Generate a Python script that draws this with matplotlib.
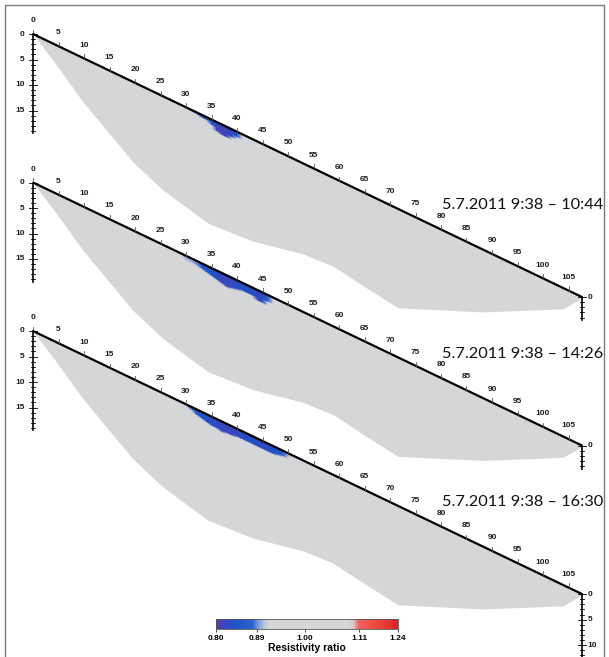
import numpy as np
import matplotlib
matplotlib.use("Agg")
import matplotlib.pyplot as plt
import matplotlib.colors as mcolors
import matplotlib.cm as cm
from matplotlib.patches import Rectangle

# ---- data ----
# topography of the profile (horizontal distance m, relative elevation m)
topo_dist = [0.0, 107.7]
topo_elev = [0.0, -51.6]

# lower edge of the inverted section (distance m, relative elevation m)
bot_dist = [0.0, 4.9, 9.8, 19.6, 25.5, 34.3, 43.1, 52.9, 58.8, 65.7, 71.6, 88.2, 103.9, 106.9, 107.7]
bot_elev = [0.0, -6.5, -13.3, -25.1, -30.6, -37.1, -40.6, -43.1, -45.5, -50.0, -53.7, -54.5, -53.9, -52.2, -51.6]

titles = ["5.7.2011 9:38 \u2013 10:44", "5.7.2011 9:38 \u2013 14:26", "5.7.2011 9:38 \u2013 16:30"]

# low-ratio zone under the surface for each time step
p1_dist = [30, 31, 32, 33, 34, 35, 36, 37, 38, 39, 40, 41]
p1_thick = [0.0, 0.3, 0.4, 0.5, 0.7, 1.2, 1.8, 2.1, 2.0, 1.7, 1.0, 0.0]
p1_ratio = [1.0, 0.90, 0.88, 0.87, 0.86, 0.84, 0.82, 0.81, 0.82, 0.83, 0.85, 1.0]

p2_dist = [28, 29, 30, 31, 32, 33, 34, 35, 36, 37, 38, 39, 40, 41, 42, 43, 44, 45, 46, 47]
p2_thick = [0.0, 0.5, 0.8, 0.9, 0.8, 1.0, 1.3, 1.6, 1.9, 2.2, 2.3, 2.2, 1.9, 1.6, 1.5, 1.7, 2.0, 2.1, 1.4, 0.0]
p2_ratio = [1.0, 0.92, 0.90, 0.90, 0.89, 0.87, 0.85, 0.84, 0.83, 0.82, 0.82, 0.82, 0.83, 0.84, 0.84, 0.83, 0.82, 0.83, 0.86, 1.0]

p3_dist = [29, 30, 31, 32, 33, 34, 35, 36, 37, 38, 39, 40, 41, 42, 43, 44, 45, 46, 47, 48, 49, 50, 51]
p3_thick = [0.0, 0.4, 0.7, 1.0, 1.3, 1.6, 1.8, 1.9, 2.0, 1.9, 1.8, 1.7, 1.6, 1.5, 1.5, 1.6, 1.7, 1.7, 1.6, 1.4, 1.0, 0.5, 0.0]
p3_ratio = [1.0, 0.91, 0.88, 0.86, 0.85, 0.84, 0.83, 0.83, 0.82, 0.82, 0.82, 0.82, 0.83, 0.84, 0.84, 0.83, 0.83, 0.83, 0.84, 0.85, 0.87, 0.90, 1.0]

anomalies = [(p1_dist, p1_thick, p1_ratio),
             (p2_dist, p2_thick, p2_ratio),
             (p3_dist, p3_thick, p3_ratio)]

# colour scale
cbar_ticks = [0.80, 0.89, 1.00, 1.11, 1.24]
cbar_tick_pos = [0.0, 0.225, 0.49, 0.786, 1.0]
cmap_pos = [0.0, 0.04, 0.10, 0.20, 0.225, 0.26, 0.29, 0.72, 0.755, 0.786, 0.88, 1.0]
cmap_col = ['#5a3aa8', '#3c46bd', '#1f52c8', '#2c62d2', '#6e92da', '#b2c3de', '#d5d6d8',
            '#d5d6d8', '#dcc9cc', '#f06262', '#ef4a3c', '#e02226']

# ---- drawing ----
px = 5.1            # pixels per metre
ox, oy = 33, 34     # origin of the first panel in pixels
panel_step = 148.5 / px

cmap = mcolors.LinearSegmentedColormap.from_list('ratio', list(zip(cmap_pos, cmap_col)))
norm = mcolors.FuncNorm((lambda v: np.interp(v, cbar_ticks, cbar_tick_pos),
                         lambda v: np.interp(v, cbar_tick_pos, cbar_ticks)),
                        vmin=0.80, vmax=1.24)

fig = plt.figure(figsize=(6.09, 6.57), dpi=100)
ax = fig.add_axes([0, 0, 1, 1])
ax.set_xlim(-ox / px, (609 - ox) / px)
ax.set_ylim((oy - 657) / px, oy / px)
ax.axis('off')

lab_font = dict(family='Liberation Sans', fontweight='bold', fontsize=6, color='#1e1e1e')
grey = cmap(norm(1.0))
right_len = [4.5, 4.5, 14]
right_labels = [[0], [0], [0, 5, 10]]

for k in range(3):
    z0 = -k * panel_step
    xs = np.array(bot_dist)
    surf = np.interp(xs, topo_dist, topo_elev)
    ax.fill_between(xs, z0 + surf, z0 + np.array(bot_elev), color=grey, lw=0, zorder=1)

    # anomaly mesh below the surface
    d, t, r = anomalies[k]
    d = np.array(d, float)
    depths = np.arange(0, 3.01, 0.25)
    X = np.tile(d, (len(depths), 1))
    Z = z0 + np.interp(d, topo_dist, topo_elev)[None, :] - depths[:, None]
    C = np.where(depths[:, None] <= np.array(t)[None, :], np.array(r)[None, :], 1.0)
    ax.pcolormesh(X, Z, C, shading='gouraud', cmap=cmap, norm=norm, zorder=2)

    # surface line and distance labels
    ax.plot(topo_dist, np.array(topo_elev) + z0, color='black', lw=1.6, zorder=3,
            solid_capstyle='butt')
    for m in range(0, 106, 5):
        ys = z0 + np.interp(m, topo_dist, topo_elev)
        ax.plot([m, m], [ys, ys + 0.8], color='#555555', lw=0.6, zorder=3)
        ax.text(m, ys + 2.6, str(m), ha='center', va='center', zorder=4, **lab_font)

    # left depth axis
    ax.plot([0, 0], [z0, z0 - 19.5], color='black', lw=1.2, zorder=3)
    for dd in range(0, 20):
        w = 0.8 if dd % 5 == 0 else 0.4
        ax.plot([-w, w], [z0 - dd, z0 - dd], color='black', lw=0.6, zorder=3)
    for dd in [0, 5, 10, 15]:
        ax.text(-1.6, z0 - dd, str(dd), ha='right', va='center', **lab_font)

    # right depth axis
    xe, ze = topo_dist[-1], z0 + topo_elev[-1]
    ax.plot([xe, xe], [ze, ze - right_len[k]], color='black', lw=1.2, zorder=3)
    for dd in range(0, int(right_len[k]) + 1):
        w = 0.8 if dd % 5 == 0 else 0.4
        ax.plot([xe - w, xe + w], [ze - dd, ze - dd], color='black', lw=0.6, zorder=3)
    for dd in right_labels[k]:
        ax.text(xe + 1.0, ze - dd, str(dd), ha='left', va='center', **lab_font)

    # time window
    ax.text((603 - ox) / px, z0 - 171 / px, titles[k], ha='right', va='center',
            family='Lato', fontsize=11.8, color='#111111', zorder=5)

# colour bar
cax = fig.add_axes([216 / 609, 28 / 657, 182 / 609, 10 / 657])
cb = fig.colorbar(cm.ScalarMappable(norm=norm, cmap=cmap), cax=cax, orientation='horizontal')
cb.set_ticks(cbar_ticks)
cb.set_ticklabels(['%.2f' % v for v in cbar_ticks])
cb.outline.set_linewidth(0.6)
cb.outline.set_edgecolor('#555555')
cax.tick_params(length=2, width=0.5, pad=2, labelsize=6)
for tl in cax.get_xticklabels():
    tl.set_family('Liberation Sans')
    tl.set_fontweight('bold')
cb.set_label('Resistivity ratio', family='Liberation Sans', fontweight='bold',
             fontsize=7.5, labelpad=1)

# picture frame
fig.patches.append(Rectangle((5 / 609, -0.01), 599 / 609, 1 - 5 / 657 + 0.01,
                             transform=fig.transFigure, fill=False,
                             edgecolor='#7a7a7a', lw=1.0))

fig.savefig('out.png', dpi=100)
